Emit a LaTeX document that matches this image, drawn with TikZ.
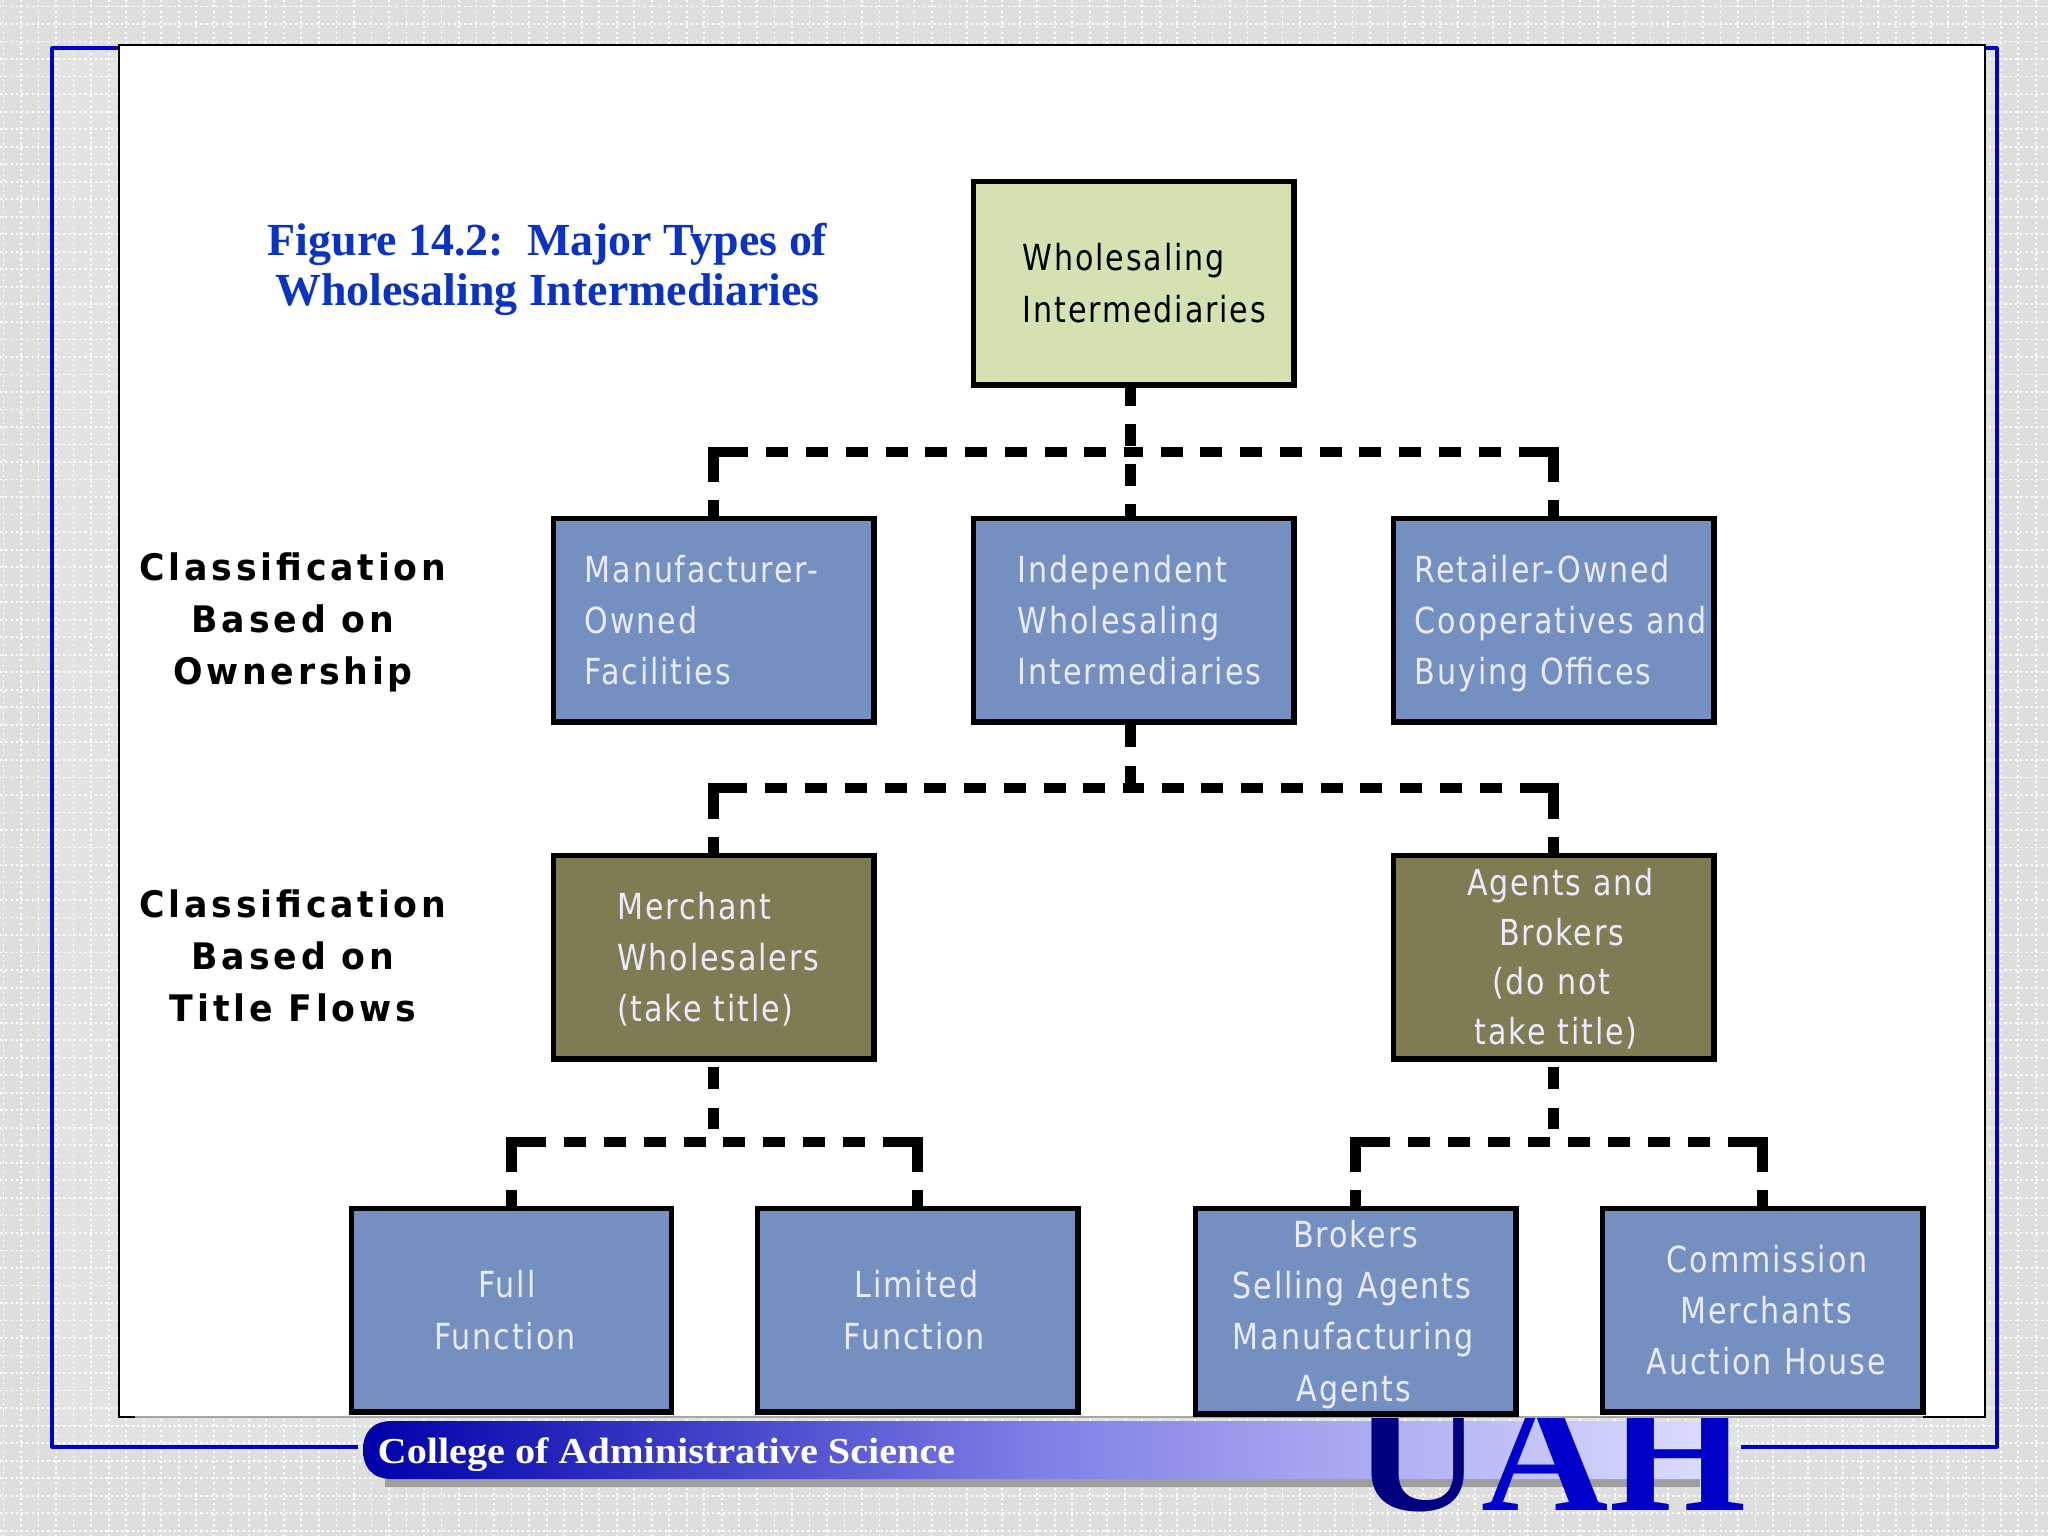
\documentclass[tikz,border=0pt]{standalone}
\usepackage{fontspec}
\setmainfont{Liberation Serif}
\newfontfamily\boxfont[FakeStretch=0.84,LetterSpace=5.2]{DejaVu Sans}
\newfontfamily\lblfont[FakeStretch=0.95,LetterSpace=10.4]{DejaVu Sans}
\newfontfamily\bannerfont[FakeStretch=1.10]{Liberation Serif}
\newfontfamily\uahfont[FakeStretch=1.055]{Liberation Serif}
\definecolor{bggray}{HTML}{DEDEDE}
\definecolor{innergray}{HTML}{E0E3DF}
\definecolor{frameblue}{HTML}{0000C8}
\definecolor{greenbox}{HTML}{D5E1B0}
\definecolor{bluebox}{HTML}{7490C0}
\definecolor{olivebox}{HTML}{7F7B52}
\definecolor{titleblue}{HTML}{0A33C4}
\newcommand{\tl}[2]{\hspace*{0.2845\dimexpr#1pt\relax}\strut\raisebox{-0.74pt}{#2}\\}
\tikzset{
  x=0.01cm,y=-0.01cm,
  orgbox/.style={draw=black,line width=1.7pt,minimum width=91pt,minimum height=58pt,inner sep=0pt,anchor=north west,
     text=white!92!blue,align=left,text width=90pt,font=\boxfont\fontsize{10.2pt}{14.6pt}\selectfont},
  linkbase/.style={line width=2.9pt,draw=black,line join=miter},
  armlink/.style={linkbase,dash pattern=on 4.4pt off 5.1pt on 18.5pt off 5.1pt
     on 6.26pt off 5.04pt on 6.26pt off 5.04pt on 6.26pt off 5.04pt on 6.26pt off 5.04pt on 6.26pt off 5.04pt
     on 6.26pt off 5.04pt on 6.26pt off 5.04pt on 6.26pt off 5.04pt on 6.26pt off 5.04pt on 6.26pt off 5.04pt},
  trunklink/.style={linkbase,dash pattern=on 6.4pt off 5pt,dash phase=1.4pt},
  stemlink/.style={linkbase,dash pattern=on 6.1pt off 5.3pt on 8pt off 1pt},
  gaplink/.style={linkbase,dash pattern=on 0pt off 1.2pt on 6.26pt off 5.4pt on 6pt off 20pt},
  sidelbl/.style={align=center,font=\lblfont\bfseries\fontsize{10.4pt}{14.7pt}\selectfont,inner sep=0pt,text=black},
}
\begin{document}
\begin{tikzpicture}
\useasboundingbox (0,0) rectangle (2048,1536);
\fill[bggray] (0,0) rectangle (2048,1536);
\fill[innergray] (52,48) rectangle (1997,1447);
\foreach \i in {0,...,117} {
  \draw[white,line width=0.5pt,dash pattern=on 0.6pt off 0.9pt] ({3.5+17.52*\i},0) -- ({3.5+17.52*\i},1536);
}
\foreach \i in {0,...,88} {
  \draw[white,line width=0.5pt,dash pattern=on 0.6pt off 0.9pt] (0,{6.5+17.52*\i}) -- (2048,{6.5+17.52*\i});
}
% blue frame
\coordinate (fa) at (358,1447); \coordinate (fb) at (52,1447); \coordinate (fc) at (52,48);
\coordinate (fd) at (1997,48); \coordinate (fe) at (1997,1447); \coordinate (ff) at (1741,1447);
\draw[frameblue,line width=0.9pt,line join=round] (fa) -- (fb) -- (fc) -- (fd) -- (fe) -- (ff);
% banner
\fill[black!38] (385,1470) rectangle (1700,1487);
\shade[left color=frameblue!85!black,right color=blue!14!white,middle color=blue!45!white!90!black]
   (392,1421) -- (1705,1421) -- (1705,1479) -- (392,1479) .. controls (370,1479) and (363,1465) .. (363,1450) .. controls (363,1435) and (370,1421) .. (392,1421) -- cycle;
\node[inner sep=0pt,anchor=base west,text=white,font=\bannerfont\bfseries\fontsize{10.4pt}{12pt}\selectfont] (college) at (377,1463) {College of Administrative Science};
% UAH
\node[inner sep=0pt,anchor=base west,text=frameblue,font=\uahfont\bfseries\fontsize{47.5pt}{50pt}\selectfont] (uah) at (1354,1510) {\textcolor{blue!50!black}{U}\textcolor{blue!80!black}{A}H};
% panel
\fill[white] (119,45) rectangle (1985,1417);
\draw[black!35,line width=0.5pt] (135,1417) -- (1923,1417);
\draw[black,line width=0.7pt] (135,1417) -- (119,1417) -- (119,45) -- (1985,45) -- (1985,1417) -- (1923,1417);
% title
\node[inner sep=0pt,align=center,text=titleblue,font=\bfseries\fontsize{13.06pt}{14.3pt}\selectfont] (title) at (547.5,269.5)
  {Figure 14.2:\ \ Major Types of\\Wholesaling Intermediaries};
% boxes
\node[orgbox,fill=greenbox,text=black] (top) at (970.5,178.5) {\tl{47.5}{Wholesaling}\tl{47.5}{Intermediaries}};
\node[orgbox,fill=bluebox] (mfr) at (550.5,515.5) {\tl{29.6}{Manufacturer-}\tl{29.6}{Owned}\tl{29.6}{Facilities}};
\node[orgbox,fill=bluebox] (ind) at (970.5,515.5) {\tl{42.6}{Independent}\tl{42.6}{Wholesaling}\tl{42.6}{Intermediaries}};
\node[orgbox,fill=bluebox] (ret) at (1390.5,515.5) {\tl{19.6}{Retailer-Owned}\tl{19.6}{Cooperatives and}\tl{19.6}{Buying Offices}};
\node[orgbox,fill=olivebox] (mer) at (550.5,852.5) {\tl{62}{Merchant}\tl{62}{Wholesalers}\tl{62}{(take title)}};
\node[orgbox,fill=olivebox,font=\boxfont\fontsize{10.2pt}{14.15pt}\selectfont] (agt) at (1390.5,852.5) {\tl{72}{Agents and}\tl{104}{Brokers}\tl{97}{(do not}\tl{79.6}{take title)}};
\node[orgbox,fill=bluebox] (ful) at (348.5,1205.5) {\tl{125}{Full}\tl{81}{Function}};
\node[orgbox,fill=bluebox] (lim) at (754.5,1205.5) {\tl{95.6}{Limited}\tl{84.3}{Function}};
\node[orgbox,fill=bluebox] (bro) at (1192.5,1205.5) {\tl{96}{Brokers}\tl{35.6}{Selling Agents}\tl{35.6}{Manufacturing}\tl{99.6}{Agents}};
\node[orgbox,fill=bluebox] (com) at (1599.5,1205.5) {\tl{62.6}{Commission}\tl{76}{Merchants}\tl{42.6}{Auction House}};
% labels
\node[sidelbl] (lab1) at (293,622.5) {Classification\\Based on\\Ownership};
\node[sidelbl] (lab2) at (293,956) {Classification\\Based on\\Title Flows};
% connectors
\coordinate (topb) at ([xshift=-0.85pt]top.south);
\coordinate (indt) at ([xshift=-0.85pt]ind.north);
\coordinate (indb) at ([xshift=-0.85pt]ind.south);
\coordinate (j1) at (topb |- 0,452);
\coordinate (j2) at (indb |- 0,788);
\coordinate (j3) at (mer.south |- 0,1142);
\coordinate (j4) at (agt.south |- 0,1142);
\draw[trunklink] (topb) -- (indt);
\draw[armlink] (mfr.north) |- (j1);
\draw[armlink] (ret.north) |- (j1);
\draw[stemlink] (indb) -- (j2);
\draw[armlink] (mer.north) |- (j2);
\draw[armlink] (agt.north) |- (j2);
\draw[gaplink] (mer.south) -- (j3);
\draw[armlink] (ful.north) |- (j3);
\draw[armlink] (lim.north) |- (j3);
\draw[gaplink] (agt.south) -- (j4);
\draw[armlink] (bro.north) |- (j4);
\draw[armlink] (com.north) |- (j4);
\end{tikzpicture}
\end{document}
